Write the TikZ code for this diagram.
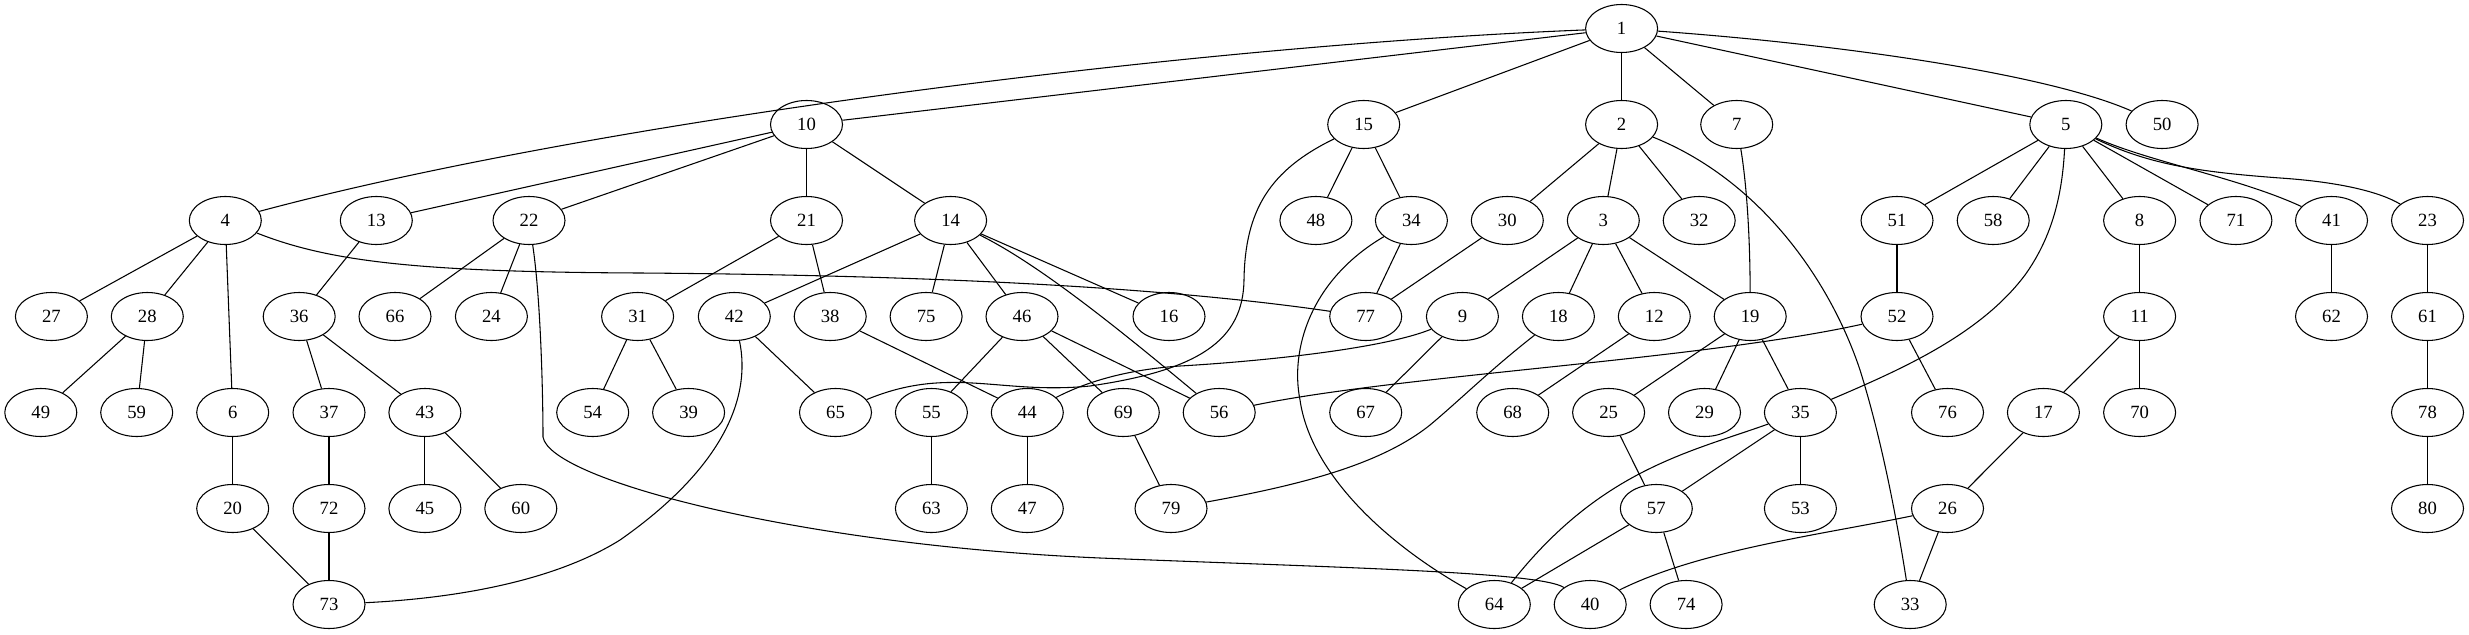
\documentclass[tikz,border=0pt]{standalone}
\usepackage{fontspec}
\setmainfont{Liberation Serif}
\usetikzlibrary{shapes.geometric}
\tikzset{
  v/.style={draw, ellipse, line width=0.8pt, minimum width=54pt, minimum height=36pt, inner sep=0pt, font=\fontsize{14pt}{16pt}\selectfont},
  e/.style={line width=0.8pt}
}
\begin{document}
\begin{tikzpicture}[x=0.75pt, y=-0.75pt]
\fill[white] (0,0) rectangle (2469,635);
\useasboundingbox (0,0) rectangle (2469,635);
% row 0
\node[v] (n1) at (1621.6,28.5) {1};
% row 1
\node[v] (n10) at (806.5,124.5) {10};
\node[v] (n15) at (1363.7,124.5) {15};
\node[v] (n2) at (1621.6,124.5) {2};
\node[v] (n7) at (1736.7,124.5) {7};
\node[v] (n5) at (2065.8,124.5) {5};
\node[v] (n50) at (2162.1,124.5) {50};
% row 2
\node[v] (n4) at (225.3,220.5) {4};
\node[v] (n13) at (376.3,220.5) {13};
\node[v] (n22) at (529,220.5) {22};
\node[v] (n21) at (806.5,220.5) {21};
\node[v] (n14) at (950.6,220.5) {14};
\node[v] (n48) at (1315.9,220.5) {48};
\node[v] (n34) at (1411.4,220.5) {34};
\node[v] (n30) at (1507.3,220.5) {30};
\node[v] (n3) at (1603.3,220.5) {3};
\node[v] (n32) at (1699.2,220.5) {32};
\node[v] (n51) at (1897,220.5) {51};
\node[v] (n58) at (1993.2,220.5) {58};
\node[v] (n8) at (2139.6,220.5) {8};
\node[v] (n71) at (2235.9,220.5) {71};
\node[v] (n41) at (2331.5,220.5) {41};
\node[v] (n23) at (2427.5,220.5) {23};
% row 3
\node[v] (n27) at (51.4,316.5) {27};
\node[v] (n28) at (147.3,316.5) {28};
\node[v] (n36) at (299.2,316.5) {36};
\node[v] (n66) at (395,316.5) {66};
\node[v] (n24) at (491.4,316.5) {24};
\node[v] (n31) at (637.6,316.5) {31};
\node[v] (n42) at (734.3,316.5) {42};
\node[v] (n38) at (830.2,316.5) {38};
\node[v] (n75) at (926.1,316.5) {75};
\node[v] (n46) at (1022,316.5) {46};
\node[v] (n16) at (1169,316.5) {16};
\node[v] (n77) at (1365.7,316.5) {77};
\node[v] (n9) at (1462.4,316.5) {9};
\node[v] (n18) at (1558.4,316.5) {18};
\node[v] (n12) at (1654.3,316.5) {12};
\node[v] (n19) at (1750.2,316.5) {19};
\node[v] (n52) at (1897,316.5) {52};
\node[v] (n11) at (2139.6,316.5) {11};
\node[v] (n62) at (2331.5,316.5) {62};
\node[v] (n61) at (2427.5,316.5) {61};
% row 4
\node[v] (n49) at (40.8,412.5) {49};
\node[v] (n59) at (136.7,412.5) {59};
\node[v] (n6) at (232.7,412.5) {6};
\node[v] (n37) at (329,412.5) {37};
\node[v] (n43) at (424.9,412.5) {43};
\node[v] (n54) at (592.7,412.5) {54};
\node[v] (n39) at (688.6,412.5) {39};
\node[v] (n65) at (835.5,412.5) {65};
\node[v] (n55) at (931.4,412.5) {55};
\node[v] (n44) at (1027.3,412.5) {44};
\node[v] (n69) at (1123.3,412.5) {69};
\node[v] (n56) at (1219.2,412.5) {56};
\node[v] (n67) at (1365.7,412.5) {67};
\node[v] (n68) at (1512.7,412.5) {68};
\node[v] (n25) at (1608.6,412.5) {25};
\node[v] (n29) at (1704.5,412.5) {29};
\node[v] (n35) at (1800.4,412.5) {35};
\node[v] (n76) at (1947.5,412.5) {76};
\node[v] (n17) at (2043.4,412.5) {17};
\node[v] (n70) at (2139.6,412.5) {70};
\node[v] (n78) at (2427.5,412.5) {78};
% row 5
\node[v] (n20) at (232.7,508.5) {20};
\node[v] (n72) at (329,508.5) {72};
\node[v] (n45) at (424.9,508.5) {45};
\node[v] (n60) at (520.8,508.5) {60};
\node[v] (n63) at (931.4,508.5) {63};
\node[v] (n47) at (1027.3,508.5) {47};
\node[v] (n79) at (1171,508.5) {79};
\node[v] (n57) at (1656.3,508.5) {57};
\node[v] (n53) at (1800.4,508.5) {53};
\node[v] (n26) at (1947.5,508.5) {26};
\node[v] (n80) at (2427.5,508.5) {80};
% row 6
\node[v] (n73) at (329,604.5) {73};
\node[v] (n64) at (1494.3,604.5) {64};
\node[v] (n40) at (1590.2,604.5) {40};
\node[v] (n74) at (1686.1,604.5) {74};
\node[v] (n33) at (1910.2,604.5) {33};
% straight edges
\foreach \a/\b in {1/10,1/15,1/2,1/7,1/5,10/13,10/22,10/21,10/14,4/27,4/28,4/6,
  13/36,22/66,22/24,21/31,21/38,14/42,14/75,14/46,14/16,
  31/54,31/39,42/65,38/44,46/55,46/69,46/56,55/63,44/47,69/79,
  15/48,15/34,34/77,30/77,2/30,2/3,2/32,3/9,3/18,3/12,3/19,
  9/67,12/68,19/25,19/29,19/35,25/57,35/57,35/53,57/64,57/74,
  26/33,17/26,11/17,11/70,8/11,5/51,5/58,5/8,5/71,
  51/52,52/76,41/62,23/61,61/78,78/80,
  6/20,20/73,37/72,72/73,36/37,36/43,43/45,43/60,28/49,28/59}
  \draw[e] (n\a) -- (n\b);
% curved edges
\draw[e] (n7) .. controls (1746,180) and (1750,230) .. (n19);
\draw[e] (n4) .. controls (600,120) and (1200,45) .. (n1);
\draw[e] (n1) .. controls (1850,45) and (2050,75) .. (n50);
\draw[e] (n4) .. controls (330,262) and (420,272) .. (640,273) .. controls (900,275) and (1150,285) .. (n77);
\draw[e] (n22) .. controls (541,300) and (543,400) .. (543,437) .. controls (550,480) and (800,545) .. (1100,558) .. controls (1350,568) and (1540,572) .. (n40);
\draw[e] (n42) .. controls (752,400) and (720,470) .. (620,540) .. controls (540,590) and (420,600) .. (n73);
\draw[e] (n14) .. controls (1040,265) and (1120,330) .. (n56);
\draw[e] (n15) .. controls (1270,170) and (1245,210) .. (1244,280) .. controls (1243,340) and (1200,370) .. (1090,386) .. controls (1000,395) and (950,365) .. (n65);
\draw[e] (n9) .. controls (1380,350) and (1250,362) .. (1180,366) .. controls (1120,370) and (1080,385) .. (n44);
\draw[e] (n34) .. controls (1310,280) and (1290,350) .. (1300,400) .. controls (1310,470) and (1380,540) .. (n64);
\draw[e] (n35) .. controls (1690,452) and (1600,470) .. (n64);
\draw[e] (n2) .. controls (1760,180) and (1830,280) .. (1860,370) .. controls (1885,450) and (1900,540) .. (n33);
\draw[e] (n18) .. controls (1490,370) and (1460,400) .. (1430,425) .. controls (1380,465) and (1300,485) .. (n79);
\draw[e] (n35) .. controls (1900,370) and (1980,335) .. (2025,275) .. controls (2050,240) and (2062,200) .. (n5);
\draw[e] (n5) .. controls (2150,162) and (2240,178) .. (n41);
\draw[e] (n5) .. controls (2150,165) and (2200,172) .. (2280,178) .. controls (2340,182) and (2380,192) .. (n23);
\draw[e] (n52) .. controls (1700,360) and (1400,375) .. (n56);
\draw[e] (n26) .. controls (1820,535) and (1700,550) .. (n40);
\end{tikzpicture}
\end{document}
